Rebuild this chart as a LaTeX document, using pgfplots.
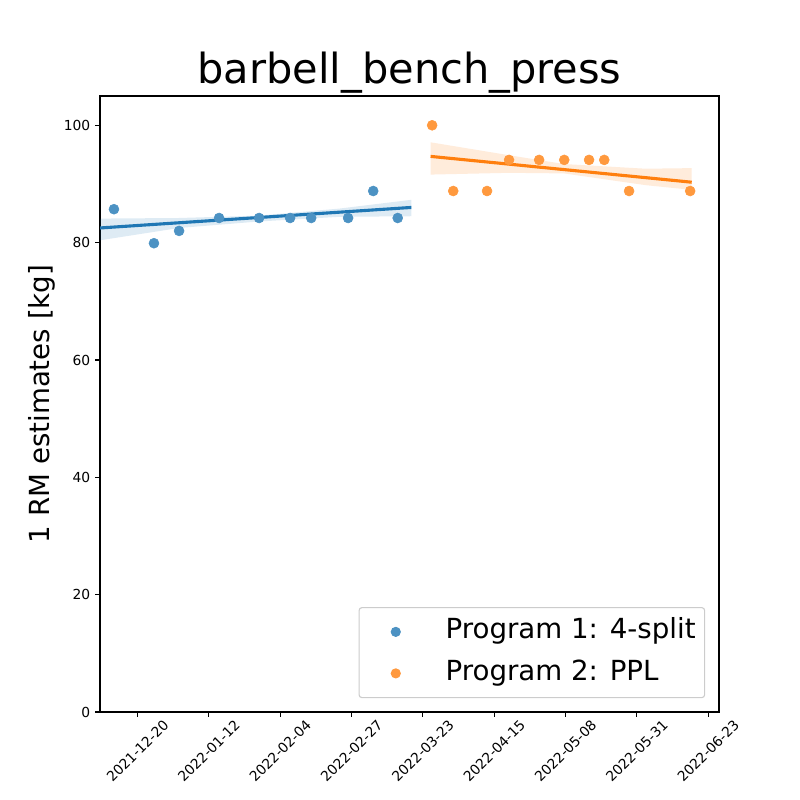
\documentclass[border=0pt]{standalone}
\usepackage{pgfplots}
\pgfplotsset{compat=1.18}
\usepackage{pgfplotstable}
\usepackage{fontspec}
\setmainfont{DejaVu Sans}
\definecolor{mblue}{HTML}{1F77B4}
\definecolor{morange}{HTML}{FF7F0E}
\definecolor{legedge}{gray}{0.8}

\pgfplotstableread{
x y
-7.6 85.7
5.3 79.9
13.4 82.0
26.3 84.2
39.2 84.2
49.2 84.2
56.0 84.2
67.9 84.2
76.0 88.8
83.9 84.2
}\progone

\pgfplotstableread{
x y
95.0 100.0
101.8 88.8
112.7 88.8
119.8 94.1
129.5 94.1
137.6 94.1
145.6 94.1
150.5 94.1
158.5 88.8
178.2 88.8
}\progtwo

\begin{document}
\begin{tikzpicture}
\useasboundingbox (0,0) rectangle (578.16pt,578.16pt);
\begin{axis}[
  at={(72.27pt,63.6pt)}, anchor=south west,
  scale only axis, width=447.35pt, height=445.2pt,
  xmin=-12.1, xmax=187.5, ymin=0, ymax=105,
  xtick={0,23,46,69,92,115,138,161,184},
  xticklabels={2021-12-20,2022-01-12,2022-02-04,2022-02-27,2022-03-23,2022-04-15,2022-05-08,2022-05-31,2022-06-23},
  ytick={0,20,40,60,80,100},
  tick align=outside, major tick length=3.5pt,
  tick style={line width=0.8pt, black},
  axis line style={line width=0.8pt},
  xtick pos=bottom, ytick pos=left,
  tick label style={font=\fontsize{10}{12}\selectfont},
  /pgf/number format/assume math mode=true,
  xticklabel style={yshift=-24.6pt, rotate=45, anchor=center},
  title={barbell\_bench\_press},
  title style={font=\fontsize{30}{36}\selectfont, at={([yshift=3pt]axis description cs:0.5,1)}, anchor=base},
  ylabel={1 RM estimates [kg]},
  ylabel style={font=\fontsize{20}{24}\selectfont, at={([xshift=-36.5pt]axis description cs:0,0.5)}, anchor=base},
  legend style={at={(axis description cs:1,0)}, anchor=south east, xshift=-10pt, yshift=10pt,
    draw=legedge, rounded corners=2pt, fill=white, line width=0.8pt,
    font=\fontsize{20}{24}\selectfont, inner xsep=6.5pt, inner ysep=7.5pt, row sep=10pt, column sep=16pt,
    nodes={inner sep=0pt, text height=15pt, text depth=5pt}},
  legend cell align=left,
  legend image code/.code={\path[draw=none, fill=none] (0pt,-10pt) rectangle (40pt,10pt); \path[draw=none] plot[#1, mark size=3.25pt] coordinates {(20pt,0pt)};},
]
% Program 1 band
\addplot[forget plot, draw=none, fill=mblue, fill opacity=0.15] coordinates {
(-12.1,84.1) (13.4,84.2) (39,84.6) (65,85.8) (88.3,87.3)
(88.3,84.5) (65,84.4) (39,83.6) (13.4,82.5) (-12.1,80.4)} -- cycle;
\addplot[only marks, mark=*, mark size=3.6pt, mark options={draw=mblue!80!white, fill=mblue!80!white}] table {\progone};
\addlegendentry{Program 1: 4-split}
\addplot[forget plot, mblue, line width=2.25pt] coordinates {(-12.1,82.5) (88.3,86.0)};
% Program 2 band
\addplot[forget plot, draw=none, fill=morange, fill opacity=0.15] coordinates {
(94.5,97.1) (119.8,94.9) (137.5,93.4) (163.8,92.6) (178.7,92.7)
(178.7,89.0) (163.8,89.8) (137.5,91.8) (119.8,91.9) (94.5,91.6)} -- cycle;
\addplot[only marks, mark=*, mark size=3.6pt, mark options={draw=morange!80!white, fill=morange!80!white}] table {\progtwo};
\addlegendentry{Program 2: PPL}
\addplot[forget plot, morange, line width=2.25pt] coordinates {(94.5,94.7) (178.7,90.3)};
\end{axis}
\end{tikzpicture}
\end{document}
